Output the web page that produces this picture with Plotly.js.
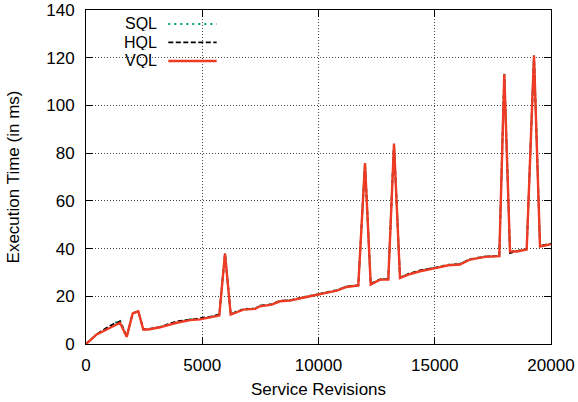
<!DOCTYPE html>
<html>
<head>
<meta charset="utf-8">
<script src="https://cdn.plot.ly/plotly-3.0.1.min.js"></script>
<style>html,body{margin:0;padding:0;background:#fff;}#chart{width:578px;height:402px;}</style>
</head>
<body>
<div id="chart"></div>
<script>
const revisions = [0,460,890,1180,1462,1750,2009,2250,2465,2680,3183,3901,4473,4903,5333,5733,5978,6224,6766,7269,7484,7987,8344,8774,9277,9923,10353,10783,11213,11712,12000,12245,12645,13002,13247,13505,13862,14366,15084,15583,16086,16516,17161,17776,17991,18237,18525,18955,19269,19527,19884,20000];
const vql = [0,4.0,6.1,7.5,8.9,3.0,12.8,13.7,6.1,6.1,7.0,8.9,10.0,10.3,11.2,11.9,37.9,12.3,14.4,14.7,15.8,16.5,17.9,18.2,19.3,20.7,21.4,22.4,23.9,24.5,75.8,24.9,27.0,27.0,83.9,27.7,29.1,30.5,31.9,33.0,33.3,35.4,36.5,36.8,113.2,38.8,38.8,39.6,120.9,40.9,41.6,41.9];
const sql = [0,4.2,6.5,8.3,10.1,3.2,12.9,13.8,6.2,6.3,7.2,9.2,10.4,10.6,11.5,12.2,38.0,12.8,14.8,14.9,16.0,16.8,18.0,18.4,19.6,20.9,21.7,22.7,24.2,24.7,75.9,25.4,27.2,27.4,84.0,28.0,29.5,30.8,32.2,33.3,33.7,35.6,36.7,37.0,113.3,39.0,39.0,39.9,121.0,41.1,41.8,42.1];
const hql = [0,4.1,6.8,8.4,9.5,3.1,12.9,13.8,6.2,6.2,7.1,9.5,10.2,10.8,11.4,12.4,37.9,12.5,14.5,14.8,16.1,16.6,18.2,18.3,19.4,20.8,21.6,22.5,24.1,24.6,75.8,25.1,27.1,27.2,83.9,27.8,29.3,30.9,32.1,33.1,33.5,35.5,36.6,36.9,113.2,38.1,38.9,39.8,120.9,41.0,42.0,42.0];
const seriesNames = ['SQL','HQL','VQL'];
const xTicks = [0,5000,10000,15000,20000];
const yTicks = [0,20,40,60,80,100,120,140];

const FONT = 'Liberation Sans, Arial, Helvetica, sans-serif';
const styles = [
  {color:'#009e73', dash:'2px,4px', width:1.8},
  {color:'#000000', dash:'5px,2.5px', width:1.8},
  {color:'#ee3b24', dash:'solid', width:2.4}
];
const ys = [sql, hql, vql];
const traces = ys.map((y,i)=>({
  x: revisions, y: y, name: seriesNames[i], type:'scatter', mode:'lines',
  line:{color:styles[i].color, dash:styles[i].dash, width:styles[i].width},
  showlegend:false
}));

const axisCommon = {
  showline:true, linecolor:'#000', linewidth:1, mirror:'ticks',
  ticks:'inside', ticklen:7, tickcolor:'#000', tickwidth:1,
  showgrid:true, gridcolor:'#444', griddash:'1px,2px', gridwidth:1,
  zeroline:false, tickfont:{family:FONT, size:17, color:'#000'},
  ticklabeloverflow:'allow'
};

const legendRowsY = [0.9581, 0.9028, 0.8475];
const annotations = seriesNames.map((n,i)=>({
  xref:'paper', yref:'paper', x:0.1505, y:legendRowsY[i], xanchor:'right', yanchor:'middle',
  text:n, showarrow:false, font:{family:FONT, size:16, color:'#000'}, xshift:2,
  height:15, borderpad:0, valign:'middle'
}));
const shapes = [{
  type:'rect', xref:'paper', yref:'paper', x0:0.003, x1:0.297, y0:0.827, y1:0.997,
  fillcolor:'#fff', line:{width:0}, layer:'between'
}].concat(seriesNames.map((n,i)=>({
  type:'line', xref:'paper', yref:'paper', x0:0.177, x1:0.281, y0:legendRowsY[i], y1:legendRowsY[i],
  line:{color:styles[i].color, dash:styles[i].dash, width:styles[i].width}
})));

const layout = {
  width:578, height:402,
  margin:{l:86, r:27, t:10, b:57.5},
  paper_bgcolor:'#fff', plot_bgcolor:'#fff',
  font:{family:FONT, size:17, color:'#000'},
  xaxis: Object.assign({}, axisCommon, {
    range:[0,20000], tickvals:xTicks, ticktext:xTicks.map(String), ticklabelstandoff:6,
    title:{text:'Service Revisions', font:{family:FONT, size:17}, standoff:8}
  }),
  yaxis: Object.assign({}, axisCommon, {
    range:[0,140], tickvals:yTicks, ticktext:yTicks.map(String), ticklabelstandoff:7,
    title:{text:'Execution Time (in ms)', font:{family:FONT, size:17}, standoff:22}
  }),
  annotations: annotations,
  shapes: shapes
};

Plotly.newPlot('chart', traces, layout, {staticPlot:true, displayModeBar:false});
</script>
</body>
</html>
